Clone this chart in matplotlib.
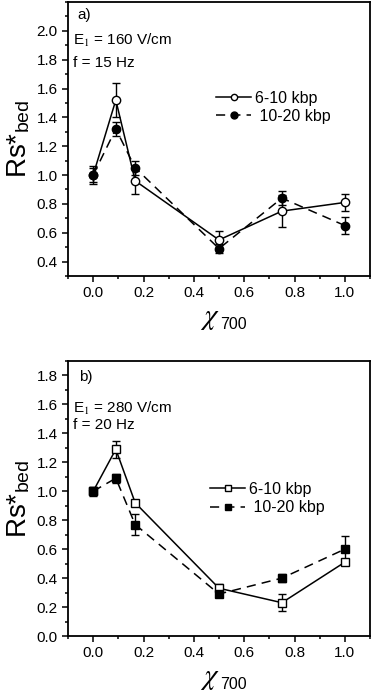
import matplotlib
matplotlib.use('Agg')
from matplotlib import pyplot as plt
from matplotlib.ticker import MultipleLocator
from matplotlib.lines import Line2D

plt.rcParams['font.family'] = ['Liberation Sans', 'DejaVu Sans']
plt.rcParams['mathtext.fontset'] = 'stix'

chi = [0.0, 0.09, 0.167, 0.5, 0.75, 1.0]

# panel a) E1 = 160 V/cm, f = 15 Hz
a_small = [1.00, 1.52, 0.96, 0.55, 0.75, 0.81]
a_small_err = [0.05, 0.12, 0.09, 0.06, 0.11, 0.06]
a_large = [1.00, 1.32, 1.05, 0.49, 0.84, 0.65]
a_large_err = [0.06, 0.05, 0.05, 0.03, 0.05, 0.06]

# panel b) E1 = 280 V/cm, f = 20 Hz
b_small = [1.00, 1.29, 0.92, 0.33, 0.23, 0.51]
b_small_err = [0.02, 0.06, 0.02, 0.03, 0.06, 0.02]
b_large = [1.00, 1.09, 0.77, 0.29, 0.40, 0.60]
b_large_err = [0.03, 0.03, 0.07, 0.02, 0.03, 0.09]

labels = ['6-10 kbp', ' 10-20 kbp']
dash = (0, (6, 4))

fig = plt.figure(figsize=(3.75, 6.92), dpi=100)
ax1 = fig.add_axes([68 / 375, 1 - 276 / 692, 302 / 375, 274 / 692])
ax2 = fig.add_axes([68 / 375, 1 - 636 / 692, 302 / 375, 275 / 692])


def draw(ax, marker, small, small_err, large, large_err, ylim, ymajor,
         texts, text_y, leg_xy):
    ax.errorbar(chi, small, yerr=small_err, color='k', marker=marker, mfc='white',
                mec='k', ms=6, mew=1, lw=1.1, capsize=3, elinewidth=1)
    ax.errorbar(chi, large, yerr=large_err, color='k', marker=marker, mfc='k',
                mec='k', ms=6, lw=1.1, ls=dash, capsize=3, elinewidth=1)
    ax.set_xlim(-0.1, 1.1)
    ax.set_ylim(*ylim)
    ax.xaxis.set_major_locator(MultipleLocator(0.2))
    ax.xaxis.set_minor_locator(MultipleLocator(0.1))
    ax.yaxis.set_minor_locator(MultipleLocator(0.1))
    ax.set_yticks([t / 10 for t in range(ymajor[0], ymajor[1] + 1, 2)])
    ax.tick_params(which='both', direction='out', top=False, right=False, labelsize=11)
    ax.tick_params(which='major', length=4, width=1.1)
    ax.tick_params(which='minor', length=2.5, width=1.1)
    for s in ax.spines.values():
        s.set_linewidth(1.3)
    # x label: chi with a lowered subscript
    ax.text(0.47, -0.153, r'$\chi$', transform=ax.transAxes, fontsize=21,
            ha='center', va='center')
    ax.text(0.503, -0.178, '700', transform=ax.transAxes, fontsize=11.5,
            ha='left', va='center')
    ax.set_ylabel(r'Rs*$_{\mathregular{bed}}$', fontsize=20, labelpad=3)
    for (tx, ty), t in zip(text_y, texts):
        ax.text(tx, ty, t, transform=ax.transAxes, fontsize=11, va='center')
    handles = [
        Line2D([], [], color='k', lw=1.1, marker=marker, mfc='white', mec='k', ms=4.5),
        Line2D([], [], color='k', lw=1.1, ls=dash, marker=marker, mfc='k', mec='k', ms=5),
    ]
    ax.legend(handles, labels, loc='center left', bbox_to_anchor=leg_xy, frameon=False,
              fontsize=11.5, handlelength=2.2, handletextpad=0.25, labelspacing=0.2,
              borderpad=0, borderaxespad=0, numpoints=1)


draw(ax1, 'o', a_small, a_small_err, a_large, a_large_err, (0.3, 2.2), (4, 20),
     ['a)', r'E$_1$ = 160 V/cm', 'f = 15 Hz'],
     [(0.03, 0.953), (0.016, 0.858), (0.016, 0.778)], (0.49, 0.615))
draw(ax2, 's', b_small, b_small_err, b_large, b_large_err, (0.0, 1.9), (0, 18),
     ['b)', r'E$_1$ = 280 V/cm', 'f = 20 Hz'],
     [(0.035, 0.94), (0.016, 0.827), (0.016, 0.766)], (0.47, 0.5))

fig.savefig('out.png', dpi=100)
